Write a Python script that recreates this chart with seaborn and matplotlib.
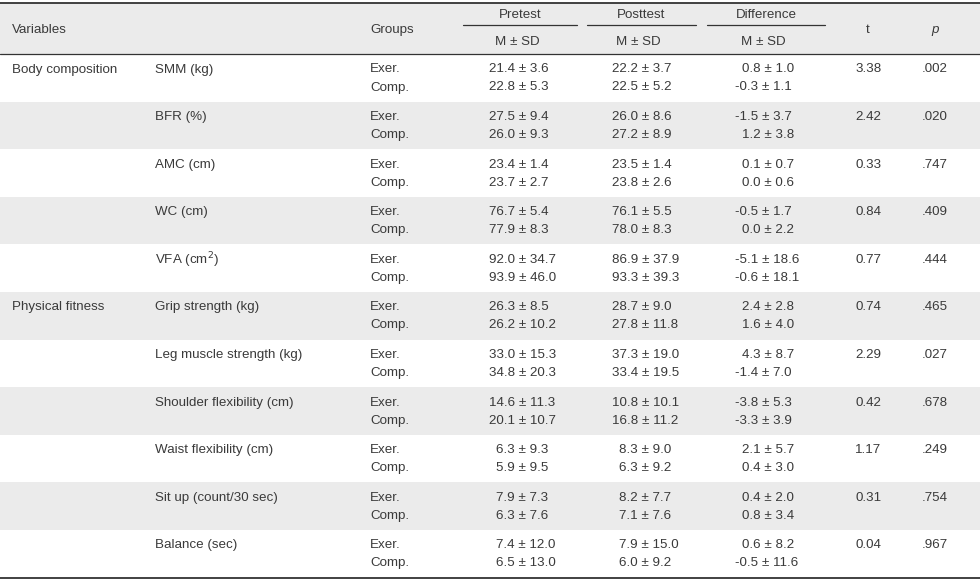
import matplotlib
matplotlib.use("Agg")
import matplotlib.pyplot as plt
import seaborn as sns

sns.set_theme(style="white")
plt.rcParams['font.family'] = ['Liberation Sans', 'DejaVu Sans']

# ---------------- data ----------------
categories = ["Body composition", "", "", "", "", "Physical fitness", "", "", "", "", ""]
variables = ["SMM (kg)", "BFR (%)", "AMC (cm)", "WC (cm)", "VFA (cm$^{2}$)",
             "Grip strength (kg)", "Leg muscle strength (kg)", "Shoulder flexibility (cm)",
             "Waist flexibility (cm)", "Sit up (count/30 sec)", "Balance (sec)"]
groups = ["Exer.", "Comp."]

pre_exer_m = [21.4, 27.5, 23.4, 76.7, 92.0, 26.3, 33.0, 14.6, 6.3, 7.9, 7.4]
pre_exer_sd = [3.6, 9.4, 1.4, 5.4, 34.7, 8.5, 15.3, 11.3, 9.3, 7.3, 12.0]
pre_comp_m = [22.8, 26.0, 23.7, 77.9, 93.9, 26.2, 34.8, 20.1, 5.9, 6.3, 6.5]
pre_comp_sd = [5.3, 9.3, 2.7, 8.3, 46.0, 10.2, 20.3, 10.7, 9.5, 7.6, 13.0]

post_exer_m = [22.2, 26.0, 23.5, 76.1, 86.9, 28.7, 37.3, 10.8, 8.3, 8.2, 7.9]
post_exer_sd = [3.7, 8.6, 1.4, 5.5, 37.9, 9.0, 19.0, 10.1, 9.0, 7.7, 15.0]
post_comp_m = [22.5, 27.2, 23.8, 78.0, 93.3, 27.8, 33.4, 16.8, 6.3, 7.1, 6.0]
post_comp_sd = [5.2, 8.9, 2.6, 8.3, 39.3, 11.8, 19.5, 11.2, 9.2, 7.6, 9.2]

diff_exer_m = [0.8, -1.5, 0.1, -0.5, -5.1, 2.4, 4.3, -3.8, 2.1, 0.4, 0.6]
diff_exer_sd = [1.0, 3.7, 0.7, 1.7, 18.6, 2.8, 8.7, 5.3, 5.7, 2.0, 8.2]
diff_comp_m = [-0.3, 1.2, 0.0, 0.0, -0.6, 1.6, -1.4, -3.3, 0.4, 0.8, -0.5]
diff_comp_sd = [1.1, 3.8, 0.6, 2.2, 18.1, 4.0, 7.0, 3.9, 3.0, 3.4, 11.6]

t_values = ["3.38", "2.42", "0.33", "0.84", "0.77", "0.74", "2.29", "0.42", "1.17", "0.31", "0.04"]
p_values = [".002", ".020", ".747", ".409", ".444", ".465", ".027", ".678", ".249", ".754", ".967"]

# ---------------- layout ----------------
W, H = 980, 582
fig = plt.figure(figsize=(W / 100, H / 100), dpi=100)
ax = fig.add_axes([0, 0, 1, 1])
ax.set_xlim(0, W)
ax.set_ylim(H, 0)
ax.axis("off")

TXT = "#3a3a3a"
GRAY = "#ebebeb"
FS = 9.6
top, head_bot, bottom = 3, 54, 577.5
n = len(variables)
rh = (bottom - head_bot) / n

# header background
ax.axhspan(top, head_bot, color=GRAY, lw=0, zorder=0)
for i in range(n):
    if i % 2 == 1:
        y0 = head_bot + i * rh
        ax.axhspan(y0, y0 + rh, color=GRAY, lw=0, zorder=0)

ax.axhline(top, color="#333333", lw=1.3, zorder=3)
ax.axhline(head_bot, color="#333333", lw=0.9, zorder=3)
ax.axhline(bottom, color="#333333", lw=1.3, zorder=3)

def t(x, y, s, ha="left", **kw):
    ax.text(x, y, s, ha=ha, va="center", fontsize=FS, color=TXT, **kw)

# header
t(12, 30, "Variables")
t(370, 30, "Groups")
spans = [("Pretest", 463, 577), ("Posttest", 587, 696), ("Difference", 707, 825)]
for name, x0, x1 in spans:
    cx = (x0 + x1) / 2
    t(cx, 15, name, ha="center")
    ax.plot([x0, x1], [25, 25], color="#333333", lw=0.9, zorder=3)
    t(cx - 3, 42, "M ± SD", ha="center")
t(868, 30, "t", ha="center")
t(935, 30, "p", ha="center", style="italic")

DIG = 7.0  # width of one digit / minus sign (px)

def fmt(m, sd):
    return f"{m:.1f} ± {sd:.1f}"

for i in range(n):
    y0 = head_bot + i * rh
    y1, y2 = y0 + 15.5, y0 + 33.5
    if categories[i]:
        t(12, y1, categories[i])
    t(155, y1, variables[i])
    t(370, y1, groups[0])
    t(370, y2, groups[1])
    # pretest / posttest
    for xbase, ms, ss, yy in [(489, pre_exer_m, pre_exer_sd, y1), (489, pre_comp_m, pre_comp_sd, y2),
                              (612, post_exer_m, post_exer_sd, y1), (612, post_comp_m, post_comp_sd, y2)]:
        m, sd = ms[i], ss[i]
        x = xbase + (DIG if abs(m) < 10 else 0)
        t(x, yy, fmt(m, sd))
    for ms, ss, yy in [(diff_exer_m, diff_exer_sd, y1), (diff_comp_m, diff_comp_sd, y2)]:
        m, sd = ms[i], ss[i]
        s = fmt(m, sd)
        if s.startswith("-0.0"):
            s = s[1:]
        x = 735 + (0 if s.startswith("-") else DIG)
        t(x, yy, s)
    t(855, y1, t_values[i])
    t(922, y1, p_values[i])

fig.savefig("out.png", dpi=100)
